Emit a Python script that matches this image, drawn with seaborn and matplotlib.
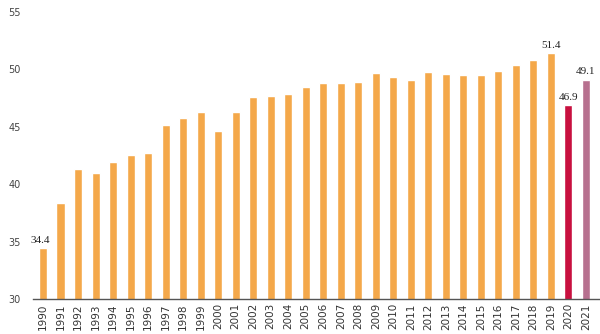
import pandas as pd
import seaborn as sns
import matplotlib.pyplot as plt

years = [str(y) for y in range(1990, 2022)]
values = [34.4, 38.4, 41.3, 41.0, 41.9, 42.5, 42.7, 45.2, 45.8, 46.3,
          44.6, 46.3, 47.6, 47.7, 47.9, 48.5, 48.8, 48.8, 48.9, 49.7,
          49.3, 49.1, 49.8, 49.6, 49.5, 49.5, 49.9, 50.4, 50.8, 51.4,
          46.9, 49.1]
labelled = {'1990': 34.4, '2019': 51.4, '2020': 46.9, '2021': 49.1}

orange = '#F4A84A'
colors = [orange] * 30 + ['#C8103F', '#B7708F']

df = pd.DataFrame({'year': years, 'value': values})

sns.set_style('white')
fig = plt.figure(figsize=(6, 3.34), dpi=100)
ax = fig.add_axes([33 / 600, 1 - 299 / 334, 567 / 600, 287 / 334])

sns.barplot(data=df, x='year', y='value', hue='year', palette=colors,
            legend=False, width=0.46, ax=ax, saturation=1)

ax.set_ylim(30, 55)
ax.set_xlim(-0.57, 31.8)
ax.set_yticks(range(30, 56, 5))
ax.set_xlabel('')
ax.set_ylabel('')

for s in ['top', 'right', 'left']:
    ax.spines[s].set_visible(False)
ax.spines['bottom'].set_color('#555555')
ax.spines['bottom'].set_linewidth(1)

ax.tick_params(axis='y', length=0, labelsize=7, labelcolor='#444444', pad=9)
ax.tick_params(axis='x', length=0, labelsize=7.5, labelcolor='#333333',
               pad=3, labelrotation=90)

for i, y in enumerate(years):
    if y in labelled:
        dx = -0.15 if y == '1990' else 0
        ax.text(i + dx, labelled[y] + 0.3, f'{labelled[y]:.1f}',
                ha='center', va='bottom', fontsize=8,
                family='Liberation Serif', color='#222222')

plt.savefig('out.png', dpi=100)
